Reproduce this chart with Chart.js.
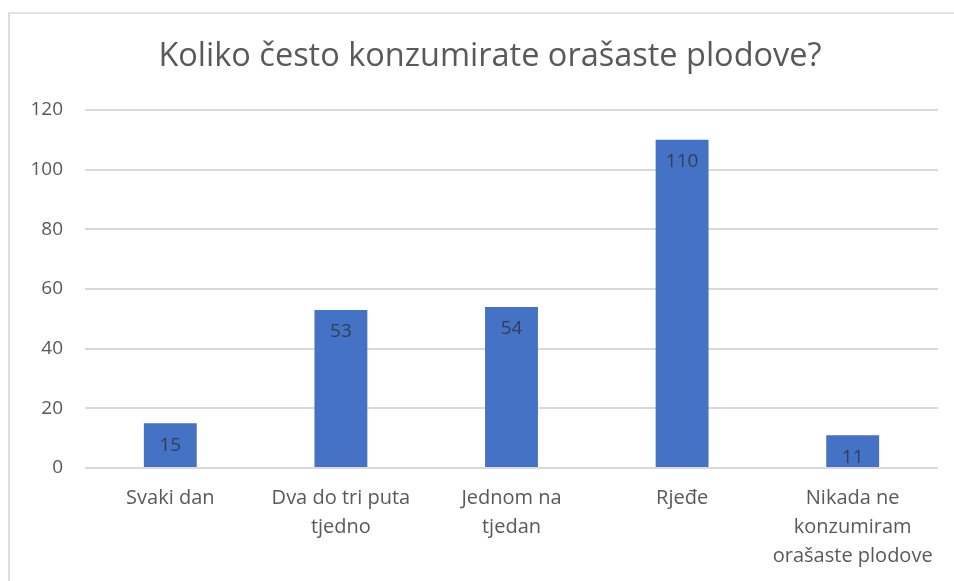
<!DOCTYPE html>
<html>
<head>
<meta charset="utf-8">
<script src="https://cdn.jsdelivr.net/npm/chart.js@4/dist/chart.umd.min.js"></script>
<style>
    html, body { margin: 0; padding: 0; background: #fff; overflow: hidden; }
    #wrap { position: relative; width: 954px; height: 581px; overflow: hidden; }
    #frame {
        position: absolute; left: 8px; top: 12px; right: 0; bottom: 0;
        border-left: 2px solid #dcdcdc; border-top: 2px solid #e2e2e2;
    }
    canvas { position: absolute; left: 0; top: 0; }
</style>
</head>
<body>
<div id="wrap">
    <div id="frame"></div>
    <!-- canvas runs past the right edge: the chart box in the source is wider than the crop -->
    <canvas id="chart" width="980" height="581"></canvas>
</div>
<script>
const categories = [
    'Svaki dan',
    ['Dva do tri puta', 'tjedno'],
    ['Jednom na', 'tjedan'],
    'Rjeđe',
    ['Nikada ne', 'konzumiram', 'orašaste plodove']
];
const answers = [15, 53, 54, 110, 11];
const yTicks = [0, 20, 40, 60, 80, 100, 120];

const fontFamily = '"Open Sans", "Noto Sans", sans-serif';
const textColor = '#595959';

// value label just inside the top of each bar
const insideEndLabels = {
    id: 'insideEndLabels',
    afterDatasetsDraw(chart) {
        const ctx = chart.ctx;
        const meta = chart.getDatasetMeta(0);
        ctx.save();
        ctx.font = '19px ' + fontFamily;
        ctx.fillStyle = '#333d55';
        ctx.textAlign = 'center';
        ctx.textBaseline = 'middle';
        meta.data.forEach((bar, i) => {
            ctx.fillText(String(answers[i]), bar.x, bar.y + 22);
        });
        ctx.restore();
    }
};

new Chart(document.getElementById('chart'), {
    type: 'bar',
    data: {
        labels: categories,
        datasets: [{
            data: answers,
            backgroundColor: '#4472c4',
            categoryPercentage: 1,
            barPercentage: 0.31
        }]
    },
    options: {
        responsive: false,
        animation: false,
        layout: { padding: 0 },
        plugins: {
            legend: { display: false },
            tooltip: { enabled: false },
            title: {
                display: true,
                text: 'Koliko često konzumirate orašaste plodove?',
                color: textColor,
                font: { family: fontFamily, size: 32.5, weight: 'normal', lineHeight: 1.2 },
                padding: { top: 37, bottom: 34 }
            }
        },
        scales: {
            y: {
                min: 0,
                max: 120,
                afterBuildTicks: (axis) => { axis.ticks = yTicks.map((v) => ({ value: v })); },
                afterFit: (axis) => { axis.width = 85; },
                border: { display: false },
                grid: { color: '#d9d9d9', lineWidth: 2, drawTicks: false },
                ticks: {
                    color: textColor,
                    padding: 22,
                    font: { family: fontFamily, size: 19 }
                }
            },
            // empty right margin
            yRight: {
                position: 'right',
                min: 0,
                max: 120,
                afterFit: (axis) => { axis.width = 42; },
                border: { display: false },
                grid: { display: false },
                ticks: { display: false }
            },
            x: {
                afterFit: (axis) => { axis.height = 113; },
                border: { display: false },
                grid: { display: false },
                ticks: {
                    color: textColor,
                    padding: 8,
                    maxRotation: 0,
                    autoSkip: false,
                    font: { family: fontFamily, size: 20, lineHeight: 1.45 }
                }
            }
        }
    },
    plugins: [insideEndLabels]
});
</script>
</body>
</html>
